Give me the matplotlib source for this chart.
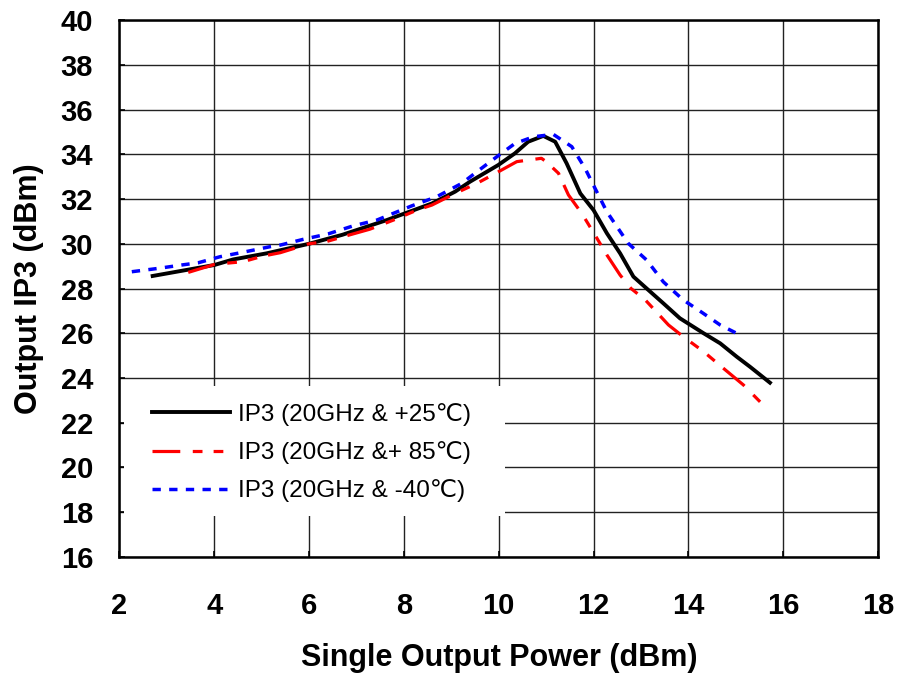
import matplotlib
matplotlib.use("Agg")
import matplotlib.pyplot as plt
from matplotlib.patches import Rectangle

plt.rcParams['font.family'] = ['Liberation Sans', 'DejaVu Sans']
plt.rcParams['lines.scale_dashes'] = False

# IP3 (20GHz & +25C)
x_25 = [2.7, 4.0, 4.4, 5.1, 6.0, 6.7, 7.64, 7.92, 8.59, 9.08, 9.39, 9.99, 10.34, 10.62,
        10.94, 11.19, 11.43, 11.72, 12.0, 12.28, 12.56, 12.84, 13.12, 13.47, 13.82,
        14.32, 14.67, 15.02, 15.3, 15.72]
y_25 = [28.56, 29.05, 29.3, 29.57, 30.0, 30.4, 31.06, 31.28, 31.8, 32.33, 32.77, 33.52,
        34.04, 34.56, 34.82, 34.56, 33.6, 32.25, 31.5, 30.47, 29.57, 28.53, 28.0, 27.34,
        26.67, 26.0, 25.55, 24.95, 24.5, 23.79]

# IP3 (20GHz & +85C)
x_85 = [3.45, 4.01, 4.61, 5.03, 5.39, 6.0, 6.37, 6.86, 7.28, 7.78, 8.27, 8.59, 9.08,
        9.54, 9.96, 10.38, 10.9, 11.0, 11.26, 11.47, 11.75, 12.03, 12.28, 12.56, 12.79,
        13.09, 13.58, 13.89, 14.32, 14.74, 15.16, 15.58]
y_85 = [28.72, 29.08, 29.2, 29.45, 29.6, 30.0, 30.1, 30.4, 30.65, 31.06, 31.5, 31.73,
        32.25, 32.7, 33.18, 33.67, 33.82, 33.67, 33.15, 32.18, 31.36, 30.39, 29.5, 28.6,
        28.0, 27.49, 26.37, 25.85, 25.18, 24.43, 23.69, 22.79]

# IP3 (20GHz & -40C)
x_40 = [2.26, 2.82, 3.31, 3.66, 4.12, 4.65, 5.18, 5.39, 5.88, 6.4, 6.93, 7.43, 8.16,
        8.69, 9.22, 9.54, 9.96, 10.34, 10.73, 11.15, 11.54, 11.82, 12.03, 12.28, 12.42,
        12.73, 13.12, 13.47, 13.89, 14.21, 14.67, 15.09]
y_40 = [28.75, 28.9, 29.05, 29.15, 29.42, 29.64, 29.87, 29.94, 30.2, 30.44, 30.8, 31.06,
        31.69, 32.1, 32.7, 33.22, 33.89, 34.48, 34.78, 34.89, 34.34, 33.37, 32.48, 31.43,
        30.99, 30.02, 29.27, 28.3, 27.49, 27.04, 26.37, 25.92]

labels = ['IP3 (20GHz & +25℃)', 'IP3 (20GHz &+ 85℃)', 'IP3 (20GHz & -40℃)']

fig = plt.figure(figsize=(8.99, 6.74), dpi=100)
ax = fig.add_axes([0.1329, 0.1736, 0.8438, 0.7967])

ax.plot(x_25, y_25, color='black', lw=2.8, label=labels[0])
ax.plot(x_85, y_85, color='red', lw=2.3, dashes=(20, 9, 7, 8, 7, 8), label=labels[1])
ax.plot(x_40, y_40, color='blue', lw=2.5, dashes=(6, 6), label=labels[2])

ax.set_xlim(2, 18)
ax.set_ylim(16, 40)
ax.set_xticks(range(2, 19, 2))
ax.set_yticks(range(16, 41, 2))
ax.grid(True, color='#222222', lw=1.0)
ax.set_axisbelow(True)
for s in ax.spines.values():
    s.set_linewidth(1.8)
ax.tick_params(direction='in', length=4, width=1.2, labelsize=21)
ax.tick_params(axis='x', pad=25)
ax.tick_params(axis='y', pad=19)
for t in ax.get_xticklabels() + ax.get_yticklabels():
    t.set_fontweight('bold')

ax.set_xlabel('Single Output Power (dBm)', fontsize=22, fontweight='bold', labelpad=17)
ax.set_ylabel('Output IP3 (dBm)', fontsize=22, fontweight='bold')
ax.yaxis.set_label_coords(-0.1, 0.5)

# white box behind the legend (hides grid)
ax.add_patch(Rectangle((0.006, 0.077), 0.502, 0.241, transform=ax.transAxes,
                       facecolor='white', edgecolor='none', zorder=1))
leg = ax.legend(loc='upper left', bbox_to_anchor=(0.043, 0.287), fontsize=17.5,
                frameon=False, borderpad=0, borderaxespad=0, handlelength=3.2,
                handletextpad=0.33, labelspacing=0.63)

fig.savefig('out.png', dpi=100)
